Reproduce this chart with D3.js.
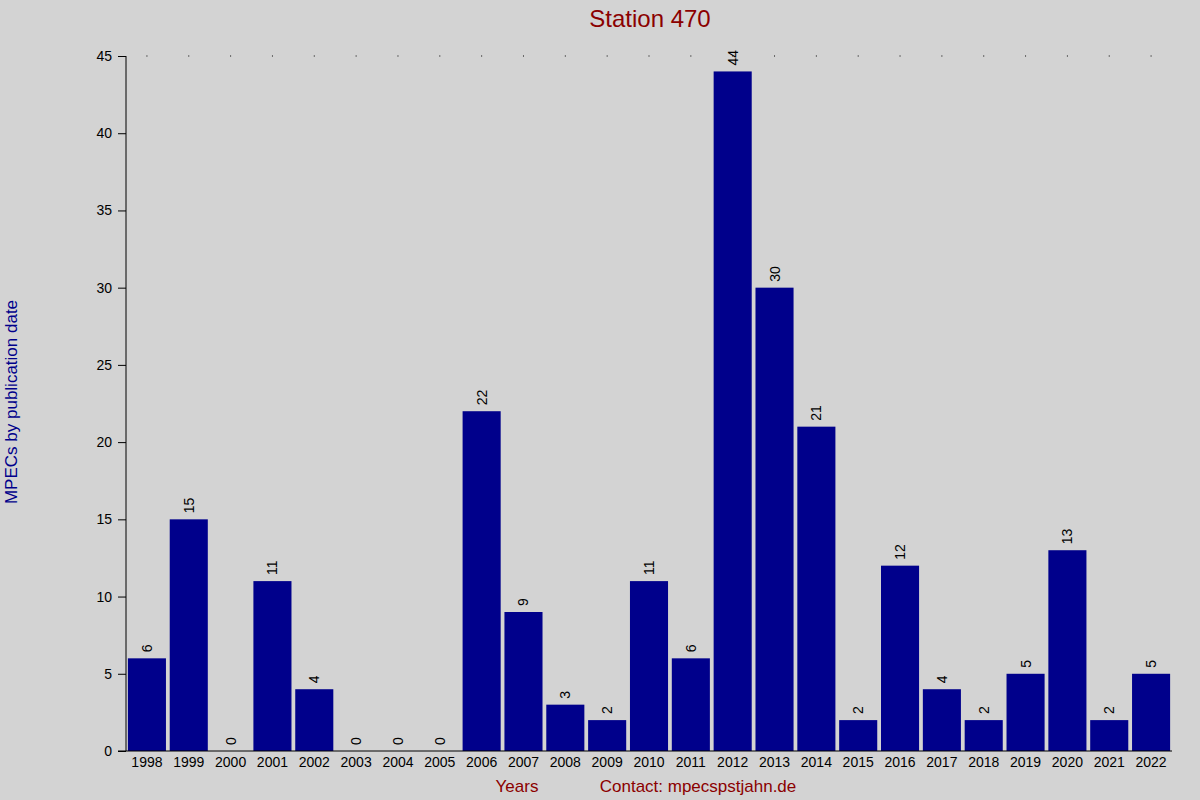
<!DOCTYPE html>
<html><head><meta charset="utf-8">
<script src="https://cdn.jsdelivr.net/npm/d3@7"></script>
<style>body{margin:0;background:#d3d3d3}</style>
</head><body>
<script>
const years = ['1998','1999','2000','2001','2002','2003','2004','2005','2006','2007','2008','2009','2010','2011','2012','2013','2014','2015','2016','2017','2018','2019','2020','2021','2022'];
const counts = [6,15,0,11,4,0,0,0,22,9,3,2,11,6,44,30,21,2,12,4,2,5,13,2,5];
const yTicks = [0,5,10,15,20,25,30,35,40,45];

const width = 1200, height = 800;
const margin = {top: 56, bottom: 49, left: 126, right: 28};

const svg = d3.select('body').append('svg')
  .attr('width', width).attr('height', height)
  .attr('style', 'font-family: Liberation Sans, Arial, sans-serif; background:#d3d3d3');

const x = d3.scaleBand().domain(years)
  .range([margin.left, width - margin.right]).paddingInner(0.09).paddingOuter(0.045);
const y = d3.scaleLinear().domain([0, 45]).range([height - margin.bottom, margin.top]);

// dotted markers at top
svg.append('g').selectAll('circle').data(years).join('rect')
  .attr('x', d => x(d) + x.bandwidth() / 2 - 0.5).attr('y', y(45) - 0.5)
  .attr('width', 1).attr('height', 1).attr('fill', '#000');

svg.append('g').selectAll('rect').data(counts).join('rect')
  .attr('x', (d, i) => x(years[i])).attr('width', x.bandwidth())
  .attr('y', d => y(d)).attr('height', d => y(0) - y(d))
  .attr('fill', '#00008b');

svg.append('g').selectAll('text').data(counts).join('text')
  .attr('transform', (d, i) => `translate(${x(years[i]) + x.bandwidth() / 2 + 5},${y(d) - 6}) rotate(-90)`)
  .attr('font-size', 14).attr('fill', '#000').text(d => d);

const yAxis = svg.append('g').attr('transform', `translate(${margin.left},0)`)
  .call(d3.axisLeft(y).tickValues(yTicks).tickSize(8).tickPadding(6));
yAxis.select('.domain').attr('d', `M0,${y(45)}V${y(0)}`);
yAxis.selectAll('text').attr('font-size', 14).attr('font-family', 'Liberation Sans, Arial, sans-serif');

const xAxis = svg.append('g').attr('transform', `translate(0,${y(0)})`)
  .call(d3.axisBottom(x).tickSize(0).tickPadding(6));
xAxis.select('.domain').attr('d', `M${margin.left - 8},0H${width - margin.right}`);
xAxis.selectAll('text').attr('font-size', 14).attr('font-family', 'Liberation Sans, Arial, sans-serif');

svg.append('text').attr('x', 650).attr('y', 27).attr('text-anchor', 'middle')
  .attr('font-size', 24).attr('fill', '#8b0000').text('Station 470');
svg.append('text').attr('transform', 'translate(17,402) rotate(-90)').attr('text-anchor', 'middle')
  .attr('font-size', 17).attr('fill', '#00008b').text('MPECs by publication date');
svg.append('text').attr('x', 517).attr('y', 792).attr('text-anchor', 'middle')
  .attr('font-size', 17).attr('fill', '#8b0000').text('Years');
svg.append('text').attr('x', 698).attr('y', 792).attr('text-anchor', 'middle')
  .attr('font-size', 17).attr('fill', '#8b0000').text('Contact: mpecspstjahn.de');
</script>
</body></html>
